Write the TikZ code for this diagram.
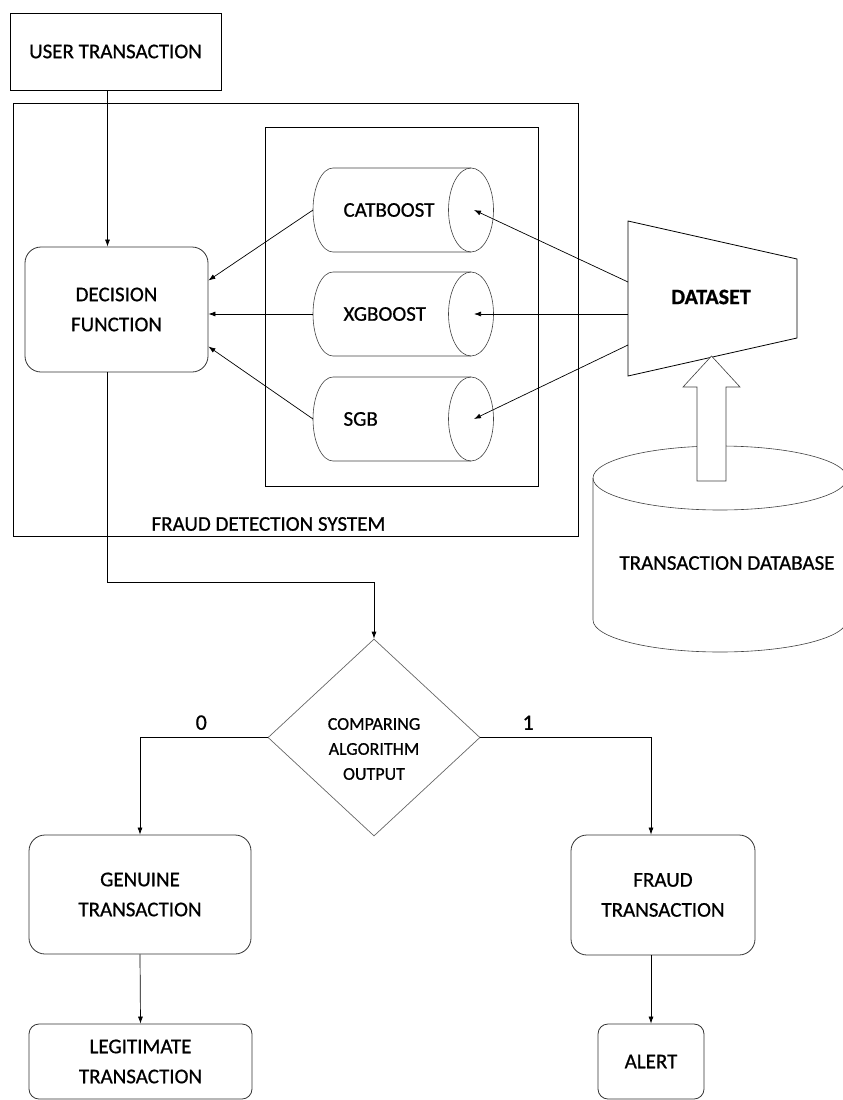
\documentclass[tikz,border=0pt]{standalone}
\usepackage{fontspec}
\setmainfont{Carlito}[FakeBold=0.7]
\usetikzlibrary{shapes.geometric,arrows.meta,positioning,calc}

\tikzset{
  box/.style={draw, line width=0.8pt, inner sep=0pt, align=center},
  rbox/.style={box, draw=black!80, rounded corners=16pt},
  arr/.style={-{Latex[length=7pt,width=5pt]}, line width=0.7pt},
  cyl/.style={draw=black!75, line width=0.6pt},
  digit/.style={font=\fontsize{22}{26}\selectfont},
}

\begin{document}
\begin{tikzpicture}[x=1pt, y=-1pt, font=\fontsize{21}{25}\selectfont]
    \useasboundingbox (0,0) rectangle (843,1100);

    % input and system frame
    \node[box, minimum width=211pt, minimum height=77pt] (user) at (115.5,51.5) {USER TRANSACTION};
    \node[box, line width=1pt, minimum width=565pt, minimum height=433pt] (fds) at (295.5,319.5) {};
    \node[anchor=west] (fdslbl) at (148,524) {FRAUD DETECTION SYSTEM};
    \node[box, line width=1pt, minimum width=273pt, minimum height=359pt] (mdl) at (401.5,306.5) {};
    \node[rbox, minimum width=183pt, minimum height=125pt] (dec) at (116.5,309.5) {DECISION\\[5pt]FUNCTION};

    % models
    \foreach \nm/\lbl/\cy in {cat/CATBOOST/210, xgb/XGBOOST/314, sgb/SGB/419} {
        \draw[cyl] (471,\cy-42) -- (333,\cy-42) arc[start angle=270, end angle=90, x radius=20, y radius=42] -- (471,\cy+42);
        \draw[cyl] (471,\cy) ellipse[x radius=22.5, y radius=42];
        \node[anchor=west] (\nm) at (340,\cy) {\lbl};
        \coordinate (\nm-in) at (313,\cy);
        \coordinate (\nm-end) at (474,\cy);
    }

    % dataset
    \draw[line width=0.8pt] (628,221) -- (797,259) -- (797,338) -- (628,376) -- cycle;
    \node[font=\fontsize{22}{26}\selectfont\bfseries] (ds) at (711,297) {DATASET};
    \coordinate (dsA) at (628,282);
    \coordinate (dsB) at (628,314);
    \coordinate (dsC) at (628,345);

    % database
    \begin{scope}
        \clip (0,0) rectangle (843,1100);
        \draw[cyl] (593,478) -- (593,620) arc[start angle=180, end angle=0, x radius=127, y radius=32] -- (847,478);
        \draw[cyl] (720,478) ellipse[x radius=127, y radius=32];
    \end{scope}
    \node (db) at (727,563) {TRANSACTION DATABASE};
    \draw[cyl, fill=white] (697,481) -- (697,387) -- (683,387) -- (711.5,356) -- (740,387) -- (726,387) -- (726,481) -- cycle;

    % decision and results
    \node[diamond, draw=black!60, line width=0.7pt, minimum width=212pt, minimum height=197pt, inner sep=0pt] (cmp) at (374,737.5) {};
    \node[font=\fontsize{18}{25}\selectfont, align=center] (cmptxt) at (374,749) {COMPARING\\ALGORITHM\\OUTPUT};
    \node[rbox, minimum width=222pt, minimum height=119pt] (gen) at (140,894.5) {GENUINE\\[5pt]TRANSACTION};
    \node[rbox, minimum width=184pt, minimum height=120pt] (frd) at (663,895) {FRAUD\\[5pt]TRANSACTION};
    \node[rbox, rounded corners=10pt, minimum width=223pt, minimum height=75pt] (leg) at (140.5,1061.5) {LEGITIMATE\\[5pt]TRANSACTION};
    \node[rbox, rounded corners=10pt, minimum width=106pt, minimum height=75pt] (alert) at (651,1061.5) {ALERT};

    % connectors
    \draw[arr] ([xshift=-8pt]user.south) -- ([xshift=-8pt]user.south |- dec.north);
    \draw[arr] (cat-in) -- ([yshift=29pt]dec.east);
    \draw[arr] (xgb-in) -- (xgb-in -| dec.east);
    \draw[arr] (sgb-in) -- ([yshift=-37pt]dec.east);
    \draw[arr] (dsA) -- (cat-end);
    \draw[arr] (dsB) -- (xgb-end);
    \draw[arr] (dsC) -- (sgb-end);
    \draw[arr] ([xshift=-9pt]dec.south) -- ++(0,210) -| (cmp.north);
    \draw[arr] (cmp.west) -| node[pos=0.26, above=4pt, digit] {0} (gen.north);
    \draw[arr] (cmp.east) -| node[pos=0.14, above=4pt, digit] {1} (frd.north -| alert.north);
    \draw[arr] (gen.south) -- (leg.north);
    \draw[arr] (frd.south -| alert.north) -- (alert.north);
\end{tikzpicture}
\end{document}
